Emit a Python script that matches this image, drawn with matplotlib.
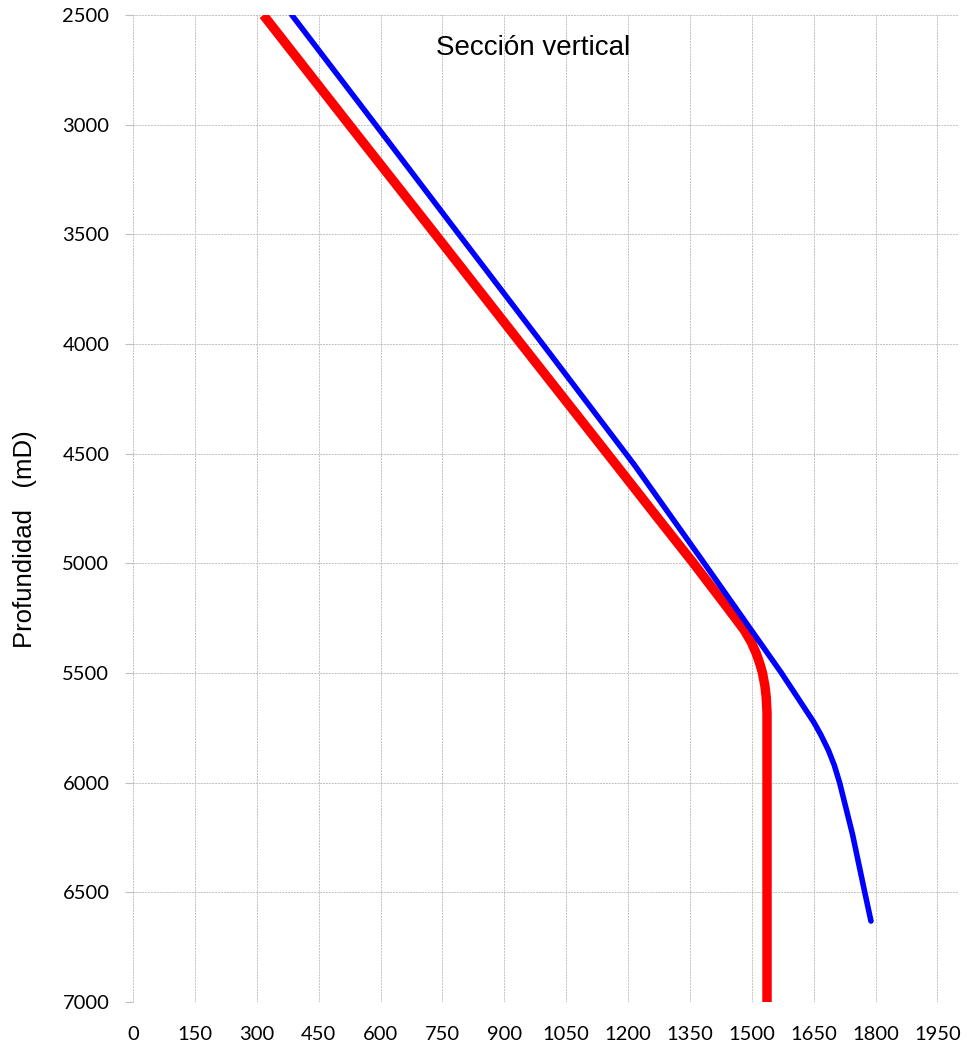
import matplotlib.pyplot as plt

# Trayectoria programada (roja) y real (azul): desplazamiento horizontal vs profundidad
red_x = [316, 524, 733, 941, 1150, 1275, 1359, 1436, 1460, 1482, 1499, 1511, 1520, 1526, 1532, 1535, 1537, 1537]
red_y = [2500, 3000, 3500, 4000, 4500, 4800, 5000, 5190, 5250, 5305, 5360, 5411, 5460, 5500, 5560, 5609, 5680, 7000]

blue_x = [385, 588, 790, 993, 1215, 1385, 1572, 1650, 1667, 1686, 1700, 1713, 1744, 1774, 1789]
blue_y = [2500, 3000, 3500, 4000, 4550, 5000, 5500, 5723, 5780, 5853, 5920, 6000, 6233, 6500, 6631]

x_ticks = list(range(0, 2000, 150))
y_ticks = list(range(2500, 7001, 500))

fig = plt.figure(figsize=(9.67, 10.43), dpi=100)
ax = fig.add_axes([133 / 967, 1 - 1002 / 1043, 825 / 967, 987 / 1043])

ax.plot(red_x, red_y, color="#FF0000", linewidth=6.8, solid_capstyle="butt",
        solid_joinstyle="round")
ax.plot(blue_x, blue_y, color="#0000FF", linewidth=4, solid_capstyle="round",
        solid_joinstyle="round")

ax.set_xlim(0, 2000)
ax.set_ylim(7000, 2500)
ax.set_xticks(x_ticks)
ax.set_yticks(y_ticks)
ax.grid(True, color="#c0c0c0", linestyle=(0, (2, 1)), linewidth=0.7)
ax.set_axisbelow(True)
for s in ax.spines.values():
    s.set_visible(False)

ax.tick_params(axis="x", length=0, pad=17)
ax.tick_params(axis="y", length=6, color="#c0c0c0", pad=11)
for lab in ax.get_xticklabels() + ax.get_yticklabels():
    lab.set_fontfamily("Lato")
    lab.set_fontsize(14.5)

ax.text(0.4855, 0.9666, "Sección vertical", transform=ax.transAxes,
        ha="center", va="center", fontsize=20, family="Liberation Sans")
fig.text(25 / 967, 1 - 539 / 1043, "Profundidad   (mD)", rotation=90,
         ha="center", va="center", fontsize=18.5, family="Liberation Sans")

fig.savefig("out.png", dpi=100)
